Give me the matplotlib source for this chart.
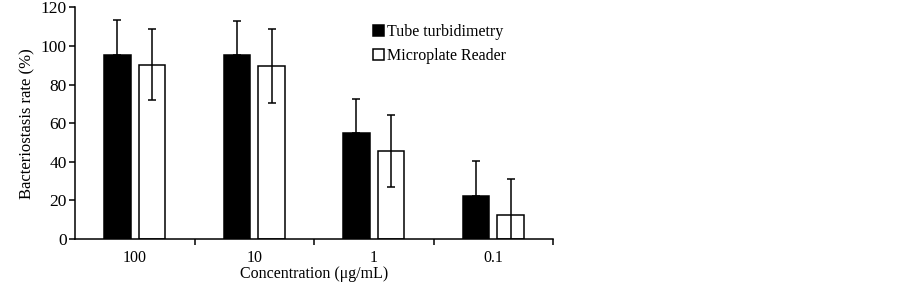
import numpy as np
import matplotlib.pyplot as plt

plt.rcParams['font.family'] = ['Liberation Serif', 'DejaVu Serif']

# Data
concentrations = ['100', '10', '1', '0.1']
tube = [95.2, 95.2, 55.2, 22.5]
tube_err = [18.4, 17.7, 17.5, 17.7]
reader = [90.4, 89.7, 45.7, 12.3]
reader_err = [18.6, 19.0, 18.5, 18.9]

fig = plt.figure(figsize=(9.03, 2.85), dpi=100)
ax = fig.add_axes([0.0831, 0.1614, 0.5293, 0.8123])

x = np.arange(len(concentrations))
w = 0.22
off = 0.145
ekw = dict(elinewidth=1.1, capthick=1.1, ecolor='black')

ax.bar(x - off, tube, w, color='black', edgecolor='black', linewidth=1.1,
       label='Tube turbidimetry', zorder=2)
ax.errorbar(x - off, tube, yerr=[np.zeros(len(tube)), tube_err], fmt='none',
            capsize=3, zorder=1, **ekw)
ax.bar(x + off, reader, w, color='white', edgecolor='black', linewidth=1.1,
       label='Microplate Reader', zorder=2)
ax.errorbar(x + off, reader, yerr=reader_err, fmt='none', capsize=3, zorder=3,
            **ekw)

ax.set_xlim(-0.5, 3.5)
ax.set_ylim(0, 120)
ax.set_yticks(range(0, 121, 20))
ax.set_xticks(x)
ax.set_xticklabels(concentrations)
ax.set_xticks([0.5, 1.5, 2.5, 3.5], minor=True)
ax.tick_params(axis='x', which='major', length=0, pad=8, labelsize=11.5)
ax.tick_params(axis='x', which='minor', length=4, width=1.1, direction='out')
ax.tick_params(axis='y', length=4, width=1.1, labelsize=12.5, pad=2)

for s in ['top', 'right']:
    ax.spines[s].set_visible(False)
for s in ['left', 'bottom']:
    ax.spines[s].set_linewidth(1.1)

ax.set_ylabel('Bacteriostasis rate (%)', fontsize=12, labelpad=4)
ax.set_xlabel('Concentration (μg/mL)', fontsize=11.5, labelpad=0)

ax.legend(loc='upper left', bbox_to_anchor=(0.6, 0.975), frameon=False,
          fontsize=11.5, handlelength=0.7, handleheight=0.7, handletextpad=0.2,
          labelspacing=0.5, borderaxespad=0.3)

fig.savefig('out.png', dpi=100)
